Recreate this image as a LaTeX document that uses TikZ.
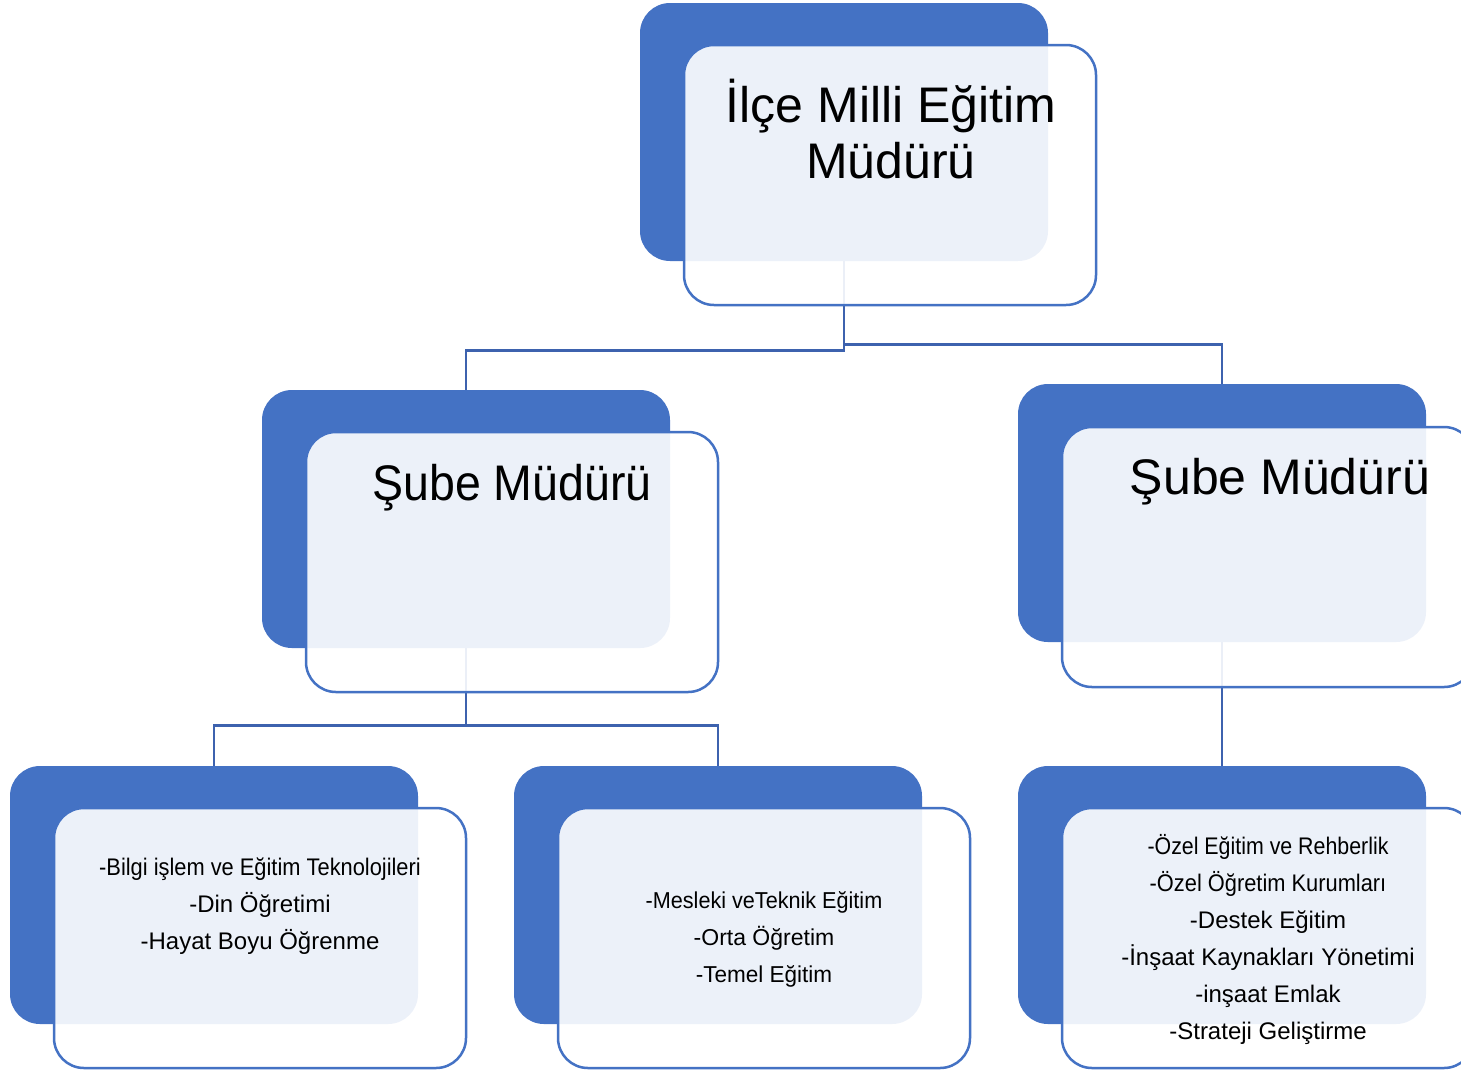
\documentclass[tikz,border=0pt]{standalone}
\usepackage{fontspec}
\setmainfont{Liberation Sans}
\definecolor{orgblue}{HTML}{4472C4}
\definecolor{linkblue}{HTML}{3D62AE}
\newcommand{\squeeze}[2]{\scalebox{#1}[1]{#2}}
\begin{document}
\begin{tikzpicture}[x=1pt,y=-1pt,
	back/.style = {draw=none, fill=orgblue, rounded corners=30pt,
		minimum width=408pt, minimum height=258pt, inner sep=0pt},
	front/.style = {draw=orgblue, line width=2.5pt, fill=white, fill opacity=0.9,
		rounded corners=30pt, minimum width=412pt, minimum height=260pt, inner sep=0pt},
	link/.style = {draw=linkblue, line width=2.6pt},
	every node/.style = {align=center}]
	
	\useasboundingbox (0,0) rectangle (1461,1072);
	
	% blue back boxes
	\node[back] (ilce)   at (844,132) {};
	\node[back] (subeA)  at (466,519) {};
	\node[back] (subeB)  at (1222,513) {};
	\node[back] (birimA) at (214,895) {};
	\node[back] (birimB) at (718,895) {};
	\node[back] (birimC) at (1222,895) {};
	
	% connectors
	\draw[link] (ilce.south) -- ++(0,89) -| (subeA.north);
	\draw[link] (ilce.south) -- ++(0,83) -| (subeB.north);
	\draw[link] (subeA.south) -- ++(0,77) -| (birimA.north);
	\draw[link] (subeA.south) -- ++(0,77) -| (birimB.north);
	\draw[link] (subeB.south) -- (birimC.north);
	
	% front boxes
	\node[front] (ilceF)   at (890,175) {};
	\node[front] (subeAF)  at (512,562) {};
	\node[front] (subeBF)  at (1268,557) {};
	\node[front] (birimAF) at (260,938) {};
	\node[front] (birimBF) at (764,938) {};
	\node[front] (birimCF) at (1268,938) {};
	
	% texts
	\node[font=\fontsize{50}{56}\selectfont] (ilceT) at (891,129)
		{İlçe Milli Eğitim\\Müdürü};
	\node[font=\fontsize{50}{56}\selectfont] (subeAT) at (512,488)
		{\squeeze{0.93}{Şube Müdürü}};
	\node[font=\fontsize{50}{56}\selectfont] (subeBT) at (1280,482)
		{Şube Müdürü};
	\node[font=\fontsize{24}{37}\selectfont] (birimAT) at (260,906)
		{\squeeze{0.91}{-Bilgi işlem ve Eğitim Teknolojileri}\\
		-Din Öğretimi\\
		-Hayat Boyu Öğrenme};
	\node[font=\fontsize{23}{37}\selectfont] (birimBT) at (764,939)
		{\squeeze{0.94}{-Mesleki veTeknik Eğitim}\\
		-Orta Öğretim\\
		\squeeze{0.98}{-Temel Eğitim}};
	\node[font=\fontsize{24}{37}\selectfont] (birimCT) at (1268,939)
		{\squeeze{0.89}{-Özel Eğitim ve Rehberlik}\\
		\squeeze{0.91}{-Özel Öğretim Kurumları}\\
		-Destek Eğitim\\
		-İnşaat Kaynakları Yönetimi\\
		-inşaat Emlak\\
		-Strateji Geliştirme};
\end{tikzpicture}
\end{document}
